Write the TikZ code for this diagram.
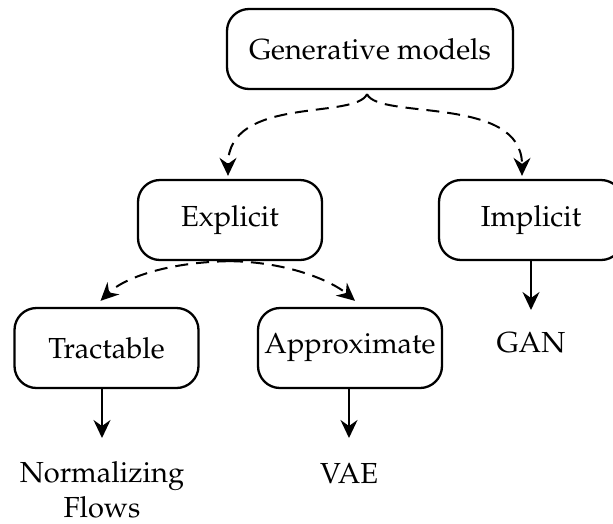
\documentclass[tikz,border=0pt]{standalone}
\usepackage[T1]{fontenc}
\usepackage{mathpazo}
\usetikzlibrary{arrows.meta,calc}
\begin{document}
\begin{tikzpicture}[x=1pt,y=-1pt,
  font=\fontsize{29}{35}\selectfont,
  box/.style={draw,line width=2.3pt,rounded corners=22pt,minimum width=184pt,minimum height=80pt,inner sep=0pt},
  lbl/.style={inner sep=0pt,align=center},
  conn/.style={line width=2pt,-{Stealth[length=18pt,width=17pt,inset=6pt]}},
  dconn/.style={conn,dash pattern=on 13pt off 8pt}]
\useasboundingbox (0,0) rectangle (613,523);
\node[box,minimum width=286pt] (gen) at (370,49) {Generative models};
\node[box] (exp) at (230,220) {Explicit};
\node[box] (imp) at (531,220) {Implicit};
\node[box] (tra) at (106.5,348) {Tractable};
\node[box] (app) at (350,348) {Approximate};
\node[lbl,anchor=north] (nf) at (102,461) {Normalizing\\Flows};
\node[lbl,anchor=north] (vae) at (349,463) {VAE};
\node[lbl,anchor=north] (gan) at (531,332) {GAN};
\draw[dconn] ($(gen.south)+(-3,4)$) .. controls (355,120) and (228,95) .. ($(exp.north)+(-2,-3)$);
\draw[dconn] ($(gen.south)+(-3,4)$) .. controls (379,120) and (522,95) .. ($(imp.north)+(-9,-3)$);
\draw[dconn] (exp.south) .. controls (170,262) and (125,277) .. ($(tra.north)+(-6,-6)$);
\draw[dconn] (exp.south) .. controls (290,262) and (333,282) .. ($(app.north)+(5,-6)$);
\draw[conn,shorten >=23pt] (tra.south -| nf.north) -- (nf.north);
\draw[conn,shorten >=25pt] (app.south -| vae.north) -- (vae.north);
\draw[conn,shorten >=22pt] (imp.south) -- (gan.north);
\end{tikzpicture}
\end{document}
